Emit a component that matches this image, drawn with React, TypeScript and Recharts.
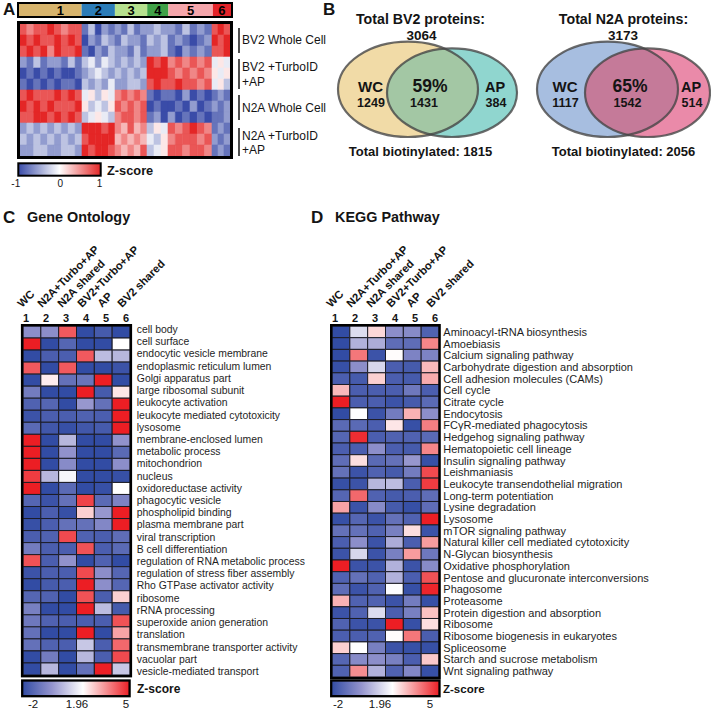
import React from 'react';
import { BarChart, Bar, XAxis, YAxis, Cell, ScatterChart, Scatter, LabelList } from 'recharts';

const FONT = '"Liberation Sans", Arial, Helvetica, sans-serif';
const INK = '#141414';

/* ================= DATA ================= */

// Panel A: clusters of the hierarchical heatmap
const clusterLabels = ['1', '2', '3', '4', '5', '6'];
const clusterWeights = [62, 33, 32, 21, 44, 18];
const clusterSubcolumns = [9, 5, 5, 3, 6, 3];
const sampleGroupLabels = [['BV2 Whole Cell'], ['BV2 +TurboID', '+AP'], ['N2A Whole Cell'], ['N2A +TurboID', '+AP']];
const zTicksA = ['-1', '0', '1'];
// z-score levels, digit 0..9 <-> -1..+1 (12 replicate rows, groups = clusters)
const heatmapARows = [
  '878898788 13021 21312 232 213121 898',
  '989889898 02132 13221 323 121012 989',
  '898979889 10213 22131 223 102121 889',
  '213122131 34243 23232 989 787878 454',
  '010101001 23432 32323 999 878787 545',
  '101010110 32324 22332 898 898878 453',
  '898889898 45354 78787 101 102010 121',
  '989898889 53435 87878 010 010201 212',
  '889989898 34543 78878 120 201010 112',
  '232323232 99989 76867 354 878987 121',
  '323232323 89999 67676 435 788878 212',
  '223322332 98998 76768 345 887887 121',
];

// Panel B: Venn counts
const vennTitles = ['Total BV2 proteins:', 'Total N2A proteins:'];
const vennTotals = [3064, 3173];
const vennWcOnly = [1249, 1117];
const vennShared = [1431, 1542];
const vennApOnly = [384, 514];
const vennPercent = ['59%', '65%'];
const vennBiotinylated = [1815, 2056];

// Panels C / D
const enrichColumns = ['WC', 'N2A+Turbo+AP', 'N2A shared', 'BV2+Turbo+AP', 'AP', 'BV2 shared'];
const zTicksCD = ['-2', '1.96', '5'];

const goTerms = [
  'cell body', 'cell surface', 'endocytic vesicle membrane', 'endoplasmic reticulum lumen',
  'Golgi apparatus part', 'large ribosomal subunit', 'leukocyte activation',
  'leukocyte mediated cytotoxicity', 'lysosome', 'membrane-enclosed lumen', 'metabolic process',
  'mitochondrion', 'nucleus', 'oxidoreductase activity', 'phagocytic vesicle',
  'phospholipid binding', 'plasma membrane part', 'viral transcription', 'B cell differentiation',
  'regulation of RNA metabolic process', 'regulation of stress fiber assembly',
  'Rho GTPase activator activity', 'ribosome', 'rRNA processing', 'superoxide anion generation',
  'translation', 'transmembrane transporter activity', 'vacuolar part', 'vesicle-mediated transport',
];
const goValues = [
  [-0.2, -0.2, 4.2, -2, -1.6, -2],
  [5, -2, -1.3, -2, -2, 1.96],
  [-2, -1.5, -1.5, 4.2, 0.7, 0.6],
  [4.2, -2, 4.2, -2, -2, -1.8],
  [-2, 2.2, -1.0, -0.9, 5, -2],
  [-0.7, -2, -2, 5, -1.6, 2.3],
  [-1.4, -1.3, -2, 0.0, -1.0, 5],
  [-1.8, -1.5, -1.5, -1.4, -1.5, 5],
  [-1.2, -1.7, -1.9, -1.7, -1.6, 5],
  [5, -2, 0.6, -2, -2, -0.1],
  [5, -2, -0.1, -2, -2, -1.2],
  [5, -2, -0.3, -2, -2, -0.2],
  [4.6, 0.6, 1.8, -2, -2, -1.9],
  [5, -2, -1.2, -2, -1.9, 1.96],
  [-1.3, -1.8, -1.0, 4.5, -1.2, -0.5],
  [-2, -1.5, -1.9, 2.6, 0.0, 5],
  [-1.9, -1.5, -1.0, -1.0, -0.4, 5],
  [-1.5, -1.4, 4.4, -1.4, -1.5, -1.1],
  [-0.7, -1.5, -1.5, 4.3, -1.5, -1.2],
  [4.3, -1.5, -0.1, -2, -1.4, -2],
  [-1.8, -1.5, -1.5, 4.4, -0.2, -1.3],
  [-2, -1.6, -1.5, 5, -0.2, -1.3],
  [-1.3, -1.4, -2, 4.3, -1.5, 2.6],
  [-0.6, -2, -2, 5, 0.7, -1.6],
  [-0.8, -1.4, -1.5, -1.5, -1.5, 4.3],
  [-1.0, -2, -2, 5, -2, 3.2],
  [-1.0, -1.4, -1.5, 0.9, -1.5, 4.0],
  [-2, -0.7, -2, 0.6, -1.5, 4.4],
  [-2, 0.6, -2, -1.0, 5, 0.9],
];

const keggTerms = [
  'Aminoacyl-tRNA biosynthesis', 'Amoebiasis', 'Calcium signaling pathway',
  'Carbohydrate digestion and absorption', 'Cell adhesion molecules (CAMs)', 'Cell cycle',
  'Citrate cycle', 'Endocytosis', 'FCγR-mediated phagocytosis', 'Hedgehog signaling pathway',
  'Hematopoietic cell lineage', 'Insulin signaling pathway', 'Leishmaniasis',
  'Leukocyte transendothelial migration', 'Long-term potentiation', 'Lysine degradation',
  'Lysosome', 'mTOR signaling pathway', 'Natural killer cell mediated cytotoxicity',
  'N-Glycan biosynthesis', 'Oxidative phosphorylation', 'Pentose and glucuronate interconversions',
  'Phagosome', 'Proteasome', 'Protein digestion and absorption', 'Ribosome',
  'Ribosome biogenesis in eukaryotes', 'Spliceosome', 'Starch and sucrose metabolism',
  'Wnt signaling pathway',
];
const keggValues = [
  [-2, 1.3, 2.5, -0.2, -0.3, -1.4],
  [-2, 0.5, 0.4, -1.1, -1.1, 3.6],
  [-2, 3.8, -1.8, 2.0, -0.5, -0.5],
  [-1.9, -0.2, 1.2, -1.5, -1.6, 2.9],
  [-1.5, -1.6, 2.6, -1.5, -1.6, 3.1],
  [2.9, -1.5, -1.5, -1.5, -0.8, -1.5],
  [5, -1.5, -1.5, -1.8, -1.6, -1.2],
  [-2, 1.96, -1.8, -0.7, 3.0, -0.2],
  [-1.2, -1.2, -1.5, 2.3, -1.9, 3.7],
  [-1.3, 4.8, -1.5, -1.4, -1.4, -1.2],
  [-1.5, -1.5, -0.2, -1.5, -1.6, 3.6],
  [-1.1, 2.4, -1.2, -1.0, 0.0, -1.9],
  [-1.0, -1.8, -1.4, -1.6, -0.7, 4.4],
  [-1.9, -1.8, 0.6, 0.7, -1.5, 4.6],
  [-1.3, 4.0, -1.4, -1.6, -1.5, -1.1],
  [3.2, -1.8, -0.3, -1.6, -1.9, -1.1],
  [-1.9, -1.3, -1.8, -1.0, -1.4, 5],
  [-1.0, -1.0, -1.4, -0.6, 2.4, -1.8],
  [-1.5, -0.2, -1.8, 0.4, -1.5, 3.3],
  [-1.8, 1.2, -1.8, -0.6, 3.3, -0.8],
  [5, -1.8, -1.8, 0.5, -1.8, -0.3],
  [-1.4, -1.0, -1.4, 0.5, -1.5, 4.3],
  [-1.1, -1.8, -1.4, 1.9, -1.9, 4.9],
  [3.0, -1.4, -1.4, -1.8, -0.7, -1.9],
  [-1.8, -1.4, 1.3, -1.5, -0.6, 2.8],
  [-1.4, -1.8, -1.8, 5, -1.9, 2.4],
  [-1.5, -1.5, -1.4, 2.0, 3.8, -1.5],
  [2.6, 1.96, -0.6, -1.8, -1.9, -1.9],
  [-1.3, -0.3, -0.2, -0.6, -1.5, 2.7],
  [-1.4, 3.5, 0.5, -1.4, -0.4, -1.9],
];

/* ================= STYLES / SCALES ================= */

const CLUSTER_COLORS = ['#d7b46c', '#2b7cb8', '#b6e08e', '#40a147', '#f5a6ab', '#e4242a'];

type RGB = [number, number, number];
type Stop = [number, RGB];
const STOPS_A: Stop[] = [[-1, [58, 76, 168]], [0, [255, 255, 255]], [1, [228, 38, 38]]];
const STOPS_CD: Stop[] = [
  [-2, [50, 76, 164]], [-0.05, [148, 148, 205]], [1.96, [255, 255, 255]], [5, [236, 30, 36]],
];
function colorAt(stops: Stop[], v: number): string {
  const lo = stops[0][0];
  const hi = stops[stops.length - 1][0];
  const x = Math.max(lo, Math.min(hi, v));
  for (let i = 0; i < stops.length - 1; i++) {
    const [a, ca] = stops[i];
    const [b, cb] = stops[i + 1];
    if (x <= b) {
      const t = (x - a) / (b - a);
      const c = (k: number) => Math.round(ca[k] + (cb[k] - ca[k]) * t);
      return `rgb(${c(0)},${c(1)},${c(2)})`;
    }
  }
  const l = stops[stops.length - 1][1];
  return `rgb(${l[0]},${l[1]},${l[2]})`;
}
function gradientStops(stops: Stop[]) {
  const lo = stops[0][0];
  const hi = stops[stops.length - 1][0];
  return stops.map(([v, c], i) => (
    <stop key={i} offset={(v - lo) / (hi - lo)} stopColor={`rgb(${c[0]},${c[1]},${c[2]})`} />
  ));
}

/* ================= PANEL A ================= */

const totalWeight = clusterWeights.reduce((s, w) => s + w, 0);
const subWidths = clusterWeights.flatMap((w, c) =>
  Array.from({ length: clusterSubcolumns[c] }, () => w / clusterSubcolumns[c]));
const aValues = heatmapARows.map((r) => r.replace(/ /g, '').split('').map((ch) => (Number(ch) - 4.5) / 4.5));
const aData = heatmapARows.map((_, r) => {
  const o: any = { row: r };
  subWidths.forEach((w, j) => { o['s' + j] = w; });
  return o;
});
const headerData = [(() => {
  const o: any = { name: 'clusters' };
  clusterWeights.forEach((w, c) => { o['k' + c] = w; });
  return o;
})()];

function PanelA() {
  return (
    <>
      <div style={{ position: 'absolute', left: 19, top: 0 }}>
        <BarChart layout="vertical" width={212} height={20} data={headerData}
          margin={{ top: 4, right: 0, bottom: 4, left: 0 }} barCategoryGap={0}>
          <XAxis type="number" hide height={0} domain={[0, totalWeight]} />
          <YAxis type="category" dataKey="name" hide width={0} />
          {clusterLabels.map((lab, c) => (
            <Bar key={c} dataKey={'k' + c} stackId="h" fill={CLUSTER_COLORS[c]} isAnimationActive={false}>
              <LabelList dataKey={'k' + c} content={(p: any) => (
                <text x={p.x + p.width / 2 + (c === 0 ? 10 : 0)} y={p.y + p.height / 2} dy="0.37em"
                  textAnchor="middle" fontSize={13} fontWeight="bold" fontFamily={FONT} fill="#000">{lab}</text>
              )} />
            </Bar>
          ))}
        </BarChart>
      </div>
      <div style={{ position: 'absolute', left: 17, top: 21, width: 216, height: 138, border: '3px solid #000', boxSizing: 'border-box' }}>
        <BarChart layout="vertical" width={210} height={132} data={aData}
          margin={{ top: 0, right: 0, bottom: 0, left: 0 }} barCategoryGap={0}>
          <XAxis type="number" hide height={0} domain={[0, totalWeight]} />
          <YAxis type="category" dataKey="row" hide width={0} />
          {subWidths.map((_, j) => (
            <Bar key={j} dataKey={'s' + j} stackId="a" isAnimationActive={false}>
              {aValues.map((row, i) => {
                const f = colorAt(STOPS_A, row[j]);
                return <Cell key={i} fill={f} stroke={f} strokeWidth={0.6} />;
              })}
            </Bar>
          ))}
        </BarChart>
      </div>
    </>
  );
}

/* ================= PANEL B ================= */

const VENN_GEOM = [
  { wc: { cx: 88, cy: 89.3, rx: 70, ry: 47.7 }, ap: { cx: 132, cy: 92.7, rx: 65, ry: 44.3 } },
  { wc: { cx: 287.5, cy: 89.3, rx: 70.5, ry: 47.7 }, ap: { cx: 327.5, cy: 92.7, rx: 62.5, ry: 44.3 } },
];
const VENN_FILL = [
  { wc: '#f1dba7', both: '#a3c7a4', ap: '#90d6cf' },
  { wc: '#a7bee0', both: '#c57a99', ap: '#ea8aa9' },
];
const vennPoints = VENN_GEOM.flatMap((g, vi) => [
  { x: g.wc.cx, y: g.wc.cy, kind: 'wc', vi, n: vennWcOnly[vi] + vennShared[vi] },
  { x: g.ap.cx, y: g.ap.cy, kind: 'ap', vi, n: vennApOnly[vi] + vennShared[vi] },
]);

function VennShape(props: any) {
  const { cx, cy, payload } = props;
  const g = VENN_GEOM[payload.vi];
  const f = VENN_FILL[payload.vi];
  if (payload.kind === 'wc') {
    return <ellipse cx={cx} cy={cy} rx={g.wc.rx} ry={g.wc.ry} fill={f.wc} />;
  }
  const wcx = g.wc.cx + (cx - g.ap.cx);
  const wcy = g.wc.cy + (cy - g.ap.cy);
  const id = `venn-clip-${payload.vi}`;
  const stroke = 'rgba(70,70,70,0.8)';
  return (
    <g>
      <defs>
        <clipPath id={id}><ellipse cx={wcx} cy={wcy} rx={g.wc.rx} ry={g.wc.ry} /></clipPath>
      </defs>
      <ellipse cx={cx} cy={cy} rx={g.ap.rx} ry={g.ap.ry} fill={f.ap} />
      <ellipse cx={cx} cy={cy} rx={g.ap.rx} ry={g.ap.ry} fill={f.both} clipPath={`url(#${id})`} />
      <ellipse cx={wcx} cy={wcy} rx={g.wc.rx} ry={g.wc.ry} fill="none" stroke={stroke} strokeWidth={2.2} />
      <ellipse cx={cx} cy={cy} rx={g.ap.rx} ry={g.ap.ry} fill="none" stroke={stroke} strokeWidth={2.2} />
    </g>
  );
}

function PanelB() {
  return (
    <div style={{ position: 'absolute', left: 320, top: 0 }}>
      <ScatterChart width={391} height={160} margin={{ top: 0, right: 0, bottom: 0, left: 0 }}>
        <XAxis type="number" dataKey="x" domain={[0, 391]} hide height={0} />
        <YAxis type="number" dataKey="y" domain={[0, 160]} reversed hide width={0} />
        <Scatter data={vennPoints} shape={VennShape} isAnimationActive={false} />
      </ScatterChart>
    </div>
  );
}

/* ================= PANELS C / D ================= */

const COLS = [0, 1, 2, 3, 4, 5];
const PLOT_LEFT = 23;
const PLOT_W = 107;
const HEADER_H = 86;
const BOTTOM_PAD = 10;

function ColumnTick(props: any) {
  const { x, payload, columns } = props;
  const i = Math.floor(payload.value);
  const colCenter0 = PLOT_LEFT + PLOT_W / 12;
  const nx = 26 + (x - colCenter0) * (20 / (PLOT_W / 6));
  return (
    <g>
      <text x={nx} y={81.7} textAnchor="middle" fontSize={11} fontWeight="bold" fontFamily={FONT} fill={INK}>{i + 1}</text>
      <text transform={`translate(${nx - 4},68) rotate(-45)`} fontSize={11.2} fontWeight="bold" fontFamily={FONT} fill={INK}>{columns[i]}</text>
    </g>
  );
}

function RowTick(props: any) {
  const { x, y, payload, fontSize, shift, y0, k, dyOff } = props;
  const yy = y0 + (y - y0) * k + dyOff;
  return (
    <text x={x + shift} y={yy} dy="0.36em" fontSize={fontSize} fontFamily={FONT} fill="#1e1e1e">{payload.value}</text>
  );
}

function TermHeatmap({ terms, values, left, width, plotHeight, fontSize, shift, k, dyOff }: any) {
  const data = terms.map((t: string) => ({ term: t, c0: 1, c1: 1, c2: 1, c3: 1, c4: 1, c5: 1 }));
  const band = plotHeight / terms.length;
  const y0 = HEADER_H + band / 2;
  return (
    <div style={{ position: 'absolute', left, top: 240 }}>
      <BarChart layout="vertical" width={width} height={HEADER_H + plotHeight + BOTTOM_PAD} data={data}
        margin={{ top: 0, right: 0, bottom: BOTTOM_PAD, left: PLOT_LEFT }} barCategoryGap={0} barGap={0} barSize={band - 0.02}>
        <XAxis type="number" orientation="top" domain={[0, 6]} ticks={[0.5, 1.5, 2.5, 3.5, 4.5, 5.5]}
          height={HEADER_H} axisLine={false} tickLine={false} interval={0}
          tick={(p: any) => <ColumnTick {...p} columns={enrichColumns} />} />
        <YAxis type="category" dataKey="term" orientation="right" width={width - PLOT_LEFT - PLOT_W}
          axisLine={false} tickLine={false} tickSize={0} tickMargin={0} interval={0}
          tick={(p: any) => <RowTick {...p} fontSize={fontSize} shift={shift} y0={y0} k={k} dyOff={dyOff} />} />
        {COLS.map((c) => (
          <Bar key={c} dataKey={'c' + c} stackId="h" isAnimationActive={false}>
            {values.map((row: number[], i: number) => (
              <Cell key={i} fill={colorAt(STOPS_CD, row[c])} stroke="#1c1c26" strokeWidth={1} />
            ))}
          </Bar>
        ))}
      </BarChart>
    </div>
  );
}

/* ================= OVERLAY (titles, legends, borders, texts) ================= */

function Overlay() {
  const bold = { fontWeight: 'bold' as const };
  const groupLines: [number, number][] = [[28, 53], [59, 89], [95, 120], [128, 156]];
  const groupBaselines = [[44.3], [71.3, 85.5], [111.5], [139.5, 154]];
  const vennCenters = [
    { title: 420.5, total: 421.5, wc: 370.5, wcN: 371, pct: 430, sh: 424, ap: 495, apN: 496, bio: 420.5 },
    { title: 623.5, total: 623, wc: 565, wcN: 565.5, pct: 630, sh: 627.5, ap: 691, apN: 692, bio: 623.5 },
  ];
  return (
    <svg width={711} height={709} style={{ position: 'absolute', left: 0, top: 0, pointerEvents: 'none' }}
      fontFamily={FONT} fill={INK}>
      <defs>
        <linearGradient id="gradA" x1="0" x2="1" y1="0" y2="0">{gradientStops(STOPS_A)}</linearGradient>
        <linearGradient id="gradCD" x1="0" x2="1" y1="0" y2="0">{gradientStops(STOPS_CD)}</linearGradient>
      </defs>

      {/* panel letters and titles */}
      <text x={3} y={15} fontSize={17} {...bold}>A</text>
      <text x={323} y={15} fontSize={17} {...bold}>B</text>
      <text x={3} y={223} fontSize={17} {...bold}>C</text>
      <text x={27} y={222} fontSize={14.4} {...bold}>Gene Ontology</text>
      <text x={311} y={223} fontSize={17} {...bold}>D</text>
      <text x={335} y={222} fontSize={14.4} {...bold}>KEGG Pathway</text>

      {/* panel A cluster header border */}
      <rect x={18} y={3} width={214} height={14} fill="none" stroke="#000" strokeWidth={2} />

      {/* panel A group labels */}
      {sampleGroupLabels.map((lines, gi) => (
        <g key={gi}>
          <line x1={239} x2={239} y1={groupLines[gi][0]} y2={groupLines[gi][1]} stroke="#000" strokeWidth={1.4} />
          {lines.map((t, li) => (
            <text key={li} x={242} y={groupBaselines[gi][li]} fontSize={12}>{t}</text>
          ))}
        </g>
      ))}

      {/* panel A colour bar */}
      <rect x={18.3} y={163.3} width={82.4} height={12.4} fill="url(#gradA)" stroke="#000" strokeWidth={2} />
      {zTicksA.map((t, i) => (
        <text key={i} x={[15.8, 60.3, 99.5][i]} y={186.5} fontSize={10} textAnchor="middle">{t}</text>
      ))}
      <text x={107} y={175} fontSize={12.8} {...bold}>Z-score</text>

      {/* panel B texts */}
      {vennCenters.map((c, i) => (
        <g key={i} {...bold} textAnchor="middle">
          <text x={c.title} y={23.5} fontSize={14.2}>{vennTitles[i]}</text>
          <text x={c.total} y={39.7} fontSize={13.5}>{vennTotals[i]}</text>
          <text x={c.wc} y={92} fontSize={15}>WC</text>
          <text x={c.wcN} y={107} fontSize={12.5}>{vennWcOnly[i]}</text>
          <text x={c.pct} y={92} fontSize={17.5}>{vennPercent[i]}</text>
          <text x={c.sh} y={107} fontSize={12.5}>{vennShared[i]}</text>
          <text x={c.ap} y={92} fontSize={14.5}>AP</text>
          <text x={c.apN} y={107} fontSize={12.5}>{vennApOnly[i]}</text>
          <text x={c.bio} y={155.5} fontSize={13}>{`Total biotinylated: ${vennBiotinylated[i]}`}</text>
        </g>
      ))}

      {/* heatmap outer borders C / D */}
      <rect x={22.1} y={325.2} width={108.8} height={351} fill="none" stroke="#000" strokeWidth={2.4} />
      <rect x={331.2} y={325.2} width={108.4} height={353} fill="none" stroke="#000" strokeWidth={2.4} />

      {/* colour bars C / D */}
      <rect x={22.2} y={680.5} width={107.4} height={15.7} fill="url(#gradCD)" stroke="#000" strokeWidth={2.3} />
      {zTicksCD.map((t, i) => (
        <text key={'c' + i} x={[33, 77, 126][i]} y={708} fontSize={11.5} textAnchor="middle">{t}</text>
      ))}
      <text x={137} y={692.5} fontSize={12} {...bold}>Z-score</text>

      <rect x={331.2} y={680.5} width={108.3} height={15.7} fill="url(#gradCD)" stroke="#000" strokeWidth={2.3} />
      {zTicksCD.map((t, i) => (
        <text key={'d' + i} x={[338, 380, 430][i]} y={708} fontSize={11.5} textAnchor="middle">{t}</text>
      ))}
      <text x={443} y={692.5} fontSize={11.5} {...bold}>Z-score</text>
    </svg>
  );
}

export default function App() {
  return (
    <div style={{ position: 'absolute', left: 0, top: 0, width: 711, height: 709, background: '#fff', overflow: 'hidden', fontFamily: FONT }}>
      <PanelA />
      <PanelB />
      <TermHeatmap terms={goTerms} values={goValues} left={0} width={320} plotHeight={349}
        fontSize={10.4} shift={6.8} k={12.21 / 12.034} dyOff={-2.7} />
      <TermHeatmap terms={keggTerms} values={keggValues} left={309} width={402} plotHeight={351}
        fontSize={11} shift={4.3} k={1} dyOff={0} />
      <Overlay />
    </div>
  );
}
